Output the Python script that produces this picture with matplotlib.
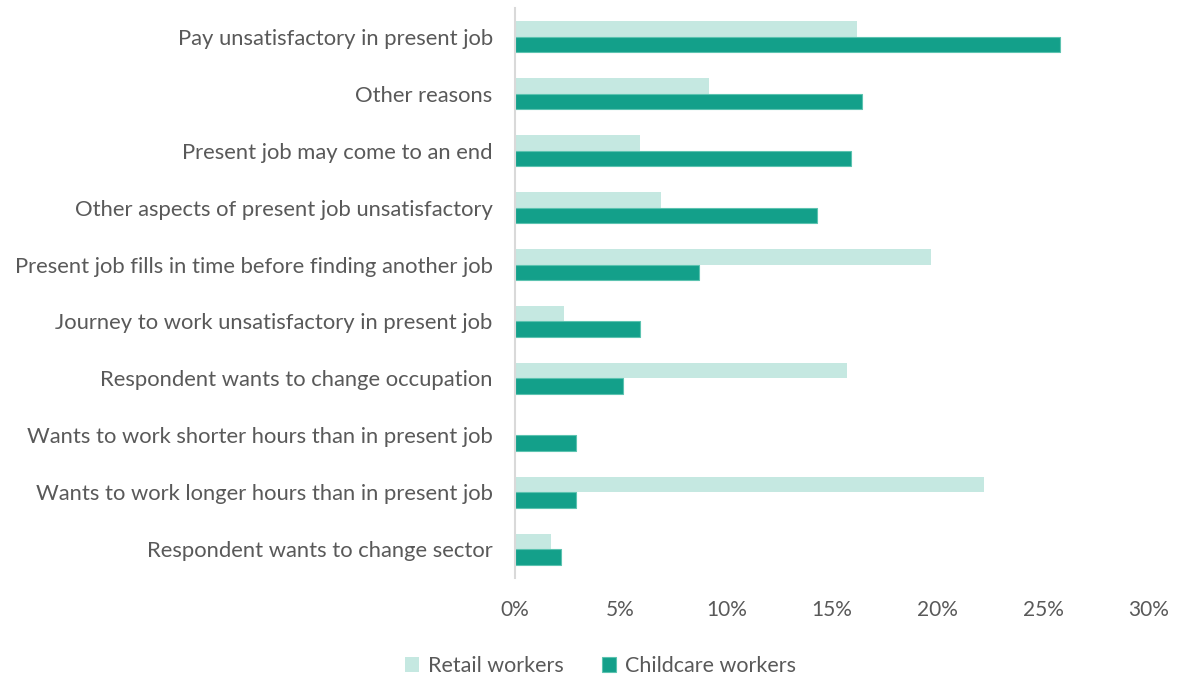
import matplotlib.pyplot as plt
import numpy as np
from matplotlib.ticker import FuncFormatter

reasons = [
    "Pay unsatisfactory in present job",
    "Other reasons",
    "Present job may come to an end",
    "Other aspects of present job unsatisfactory",
    "Present job fills in time before finding another job",
    "Journey to work unsatisfactory in present job",
    "Respondent wants to change occupation",
    "Wants to work shorter hours than in present job",
    "Wants to work longer hours than in present job",
    "Respondent wants to change sector",
]
retail = [16.2, 9.2, 5.9, 6.9, 19.7, 2.3, 15.7, 0.0, 22.2, 1.7]
childcare = [25.8, 16.4, 15.9, 14.3, 8.7, 5.9, 5.1, 2.9, 2.9, 2.2]

plt.rcParams['font.family'] = ['Lato', 'DejaVu Sans']
grey = '#595959'

fig = plt.figure(figsize=(11.77, 6.79), dpi=100)
ax = fig.add_axes([0.4375, 0.149, 0.5387, 0.839])

y = np.arange(len(reasons))
h = 0.27
ax.barh(y - h / 2, retail, height=h, color='#C5E8E1', label='Retail workers')
ax.barh(y + h / 2, childcare, height=h, color='#13A08A', edgecolor='#5CC3B0',
        linewidth=0.8, label='Childcare workers')

ax.set_ylim(len(reasons) - 0.5, -0.5)
ax.set_xlim(0, 30)
ax.set_xticks(np.arange(0, 31, 5))
ax.xaxis.set_major_formatter(FuncFormatter(lambda v, p: f"{v:.0f}%"))
ax.set_yticks(y)
ax.set_yticklabels(reasons)
ax.tick_params(axis='y', length=0, labelsize=15.8, colors=grey, pad=16)
ax.tick_params(axis='x', length=0, labelsize=15, colors=grey, pad=16)

for s in ['top', 'right', 'bottom']:
    ax.spines[s].set_visible(False)
ax.spines['left'].set_color('#D9D9D9')
ax.spines['left'].set_linewidth(1.5)

fig.legend(loc='lower center', bbox_to_anchor=(0.51, -0.024), ncol=2, frameon=False,
           fontsize=15.5, labelcolor=grey, handlelength=0.65, handleheight=0.65,
           handletextpad=0.4, columnspacing=1.8)

fig.savefig('out.png', dpi=100)
